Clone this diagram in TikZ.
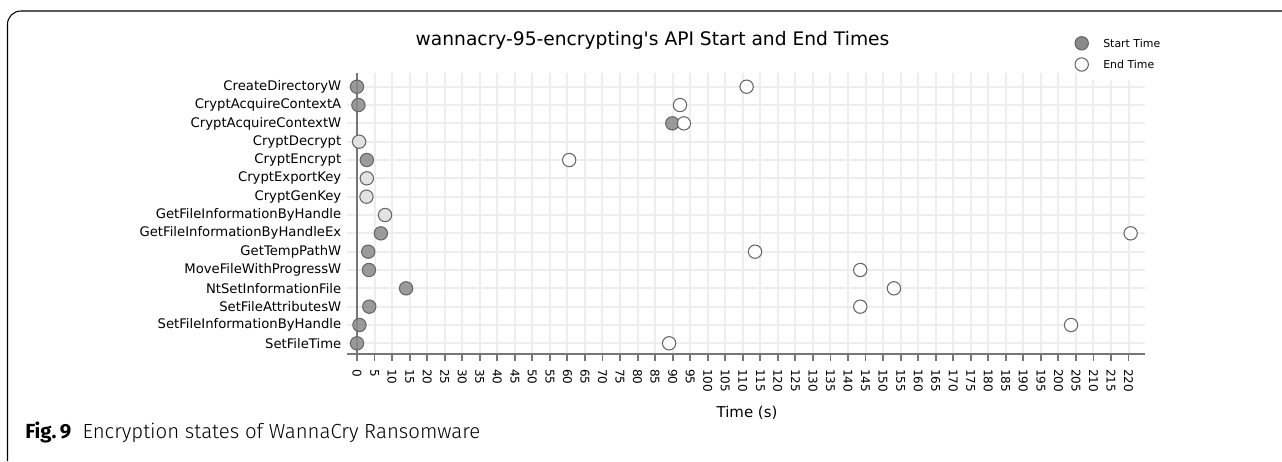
\documentclass[tikz,border=0pt]{standalone}
\usepackage{fontspec}
\setmainfont{DejaVu Sans}
\newfontfamily\capfont{Fira Sans}
\newfontfamily\capfontlight{Fira Sans Light}
\definecolor{gridc}{HTML}{EEEEEE}
\definecolor{axisc}{HTML}{777777}
\definecolor{startc}{HTML}{8A8A8A}
\definecolor{edgec}{HTML}{666666}
\definecolor{lightc}{HTML}{E2E2E2}
\begin{document}
\begin{tikzpicture}[x=0.75pt,y=-0.75pt,
  gridline/.style={draw=gridc,line width=1.5pt},
  axisline/.style={draw=axisc,line width=1.4pt},
  ylab/.style={anchor=east,inner sep=0pt,font=\fontsize{9.9pt}{11pt}\selectfont},
  ticklab/.style={anchor=west,rotate=-90,inner sep=0pt,font=\fontsize{9pt}{10pt}\selectfont},
  startm/.style={circle,draw=edgec,fill=startc,fill opacity=0.85,line width=0.8pt,minimum size=10pt,inner sep=0pt},
  endm/.style={circle,draw=edgec,fill=white,fill opacity=0.85,line width=0.8pt,minimum size=10pt,inner sep=0pt},
  bothm/.style={circle,draw=edgec,fill=lightc,line width=0.8pt,minimum size=10pt,inner sep=0pt},
  legtext/.style={anchor=west,inner sep=0pt,font=\fontsize{8.2pt}{10pt}\selectfont}
]
\useasboundingbox (0,0) rectangle (1282,461);
% frame
\draw[line width=0.8pt,rounded corners=10pt] (7.5,461) -- (7.5,11) -- (1282,11);
% title
\node[inner sep=0pt,font=\fontsize{14pt}{16pt}\selectfont] (title) at (652.5,40) {wannacry-95-encrypting\textquotesingle s API Start and End Times};
% grid
\foreach \t in {5,10,...,220} {
  \draw[gridline] ({357+3.507*\t},73) -- ({357+3.507*\t},354);
}
\foreach \i in {0,...,14} {
  \draw[gridline] (347,{86.7+18.33*\i}) -- (1145,{86.7+18.33*\i});
}
% legend background
\fill[white] (1086,28) rectangle (1180,80);
% axes
\coordinate (xa0) at (347,354);
\coordinate (xa1) at (1145,354);
\coordinate (ya0) at (357,73);
\coordinate (ya1) at (357,354);
\draw[axisline] (ya0) -- (ya1);
\draw[axisline] (xa0) -- (xa1);
\foreach \t in {0,5,...,220} {
  \draw[axisline] ({357+3.507*\t},354) -- ({357+3.507*\t},361);
  \node[ticklab] (tk\t) at ({357+3.507*\t},369) {\t};
}
\node[inner sep=0pt,font=\fontsize{11.2pt}{13pt}\selectfont] (xlabel) at (747,413) {Time (s)};
% y labels
\foreach \n [count=\j from 0] in {CreateDirectoryW,CryptAcquireContextA,CryptAcquireContextW,CryptDecrypt,CryptEncrypt,CryptExportKey,CryptGenKey,GetFileInformationByHandle,GetFileInformationByHandleEx,GetTempPathW,MoveFileWithProgressW,NtSetInformationFile,SetFileAttributesW,SetFileInformationByHandle,SetFileTime} {
  \node[ylab] (l\j) at (341.5,{86.7+18.33*\j}) {\n};
}
% markers: row/start/end
\foreach \j/\s/\e in {0/0/111.1,1/0.4/92.1,2/89.9/93.2,4/2.8/60.5,8/6.8/220.6,9/3.2/113.5,10/3.4/143.5,11/14.0/153.1,12/3.5/143.5,13/0.7/203.6,14/0/89.0} {
  \node[startm] (s\j) at ({357+3.507*\s},{86.7+18.33*\j}) {};
  \node[endm] (e\j) at ({357+3.507*\e},{86.7+18.33*\j}) {};
}
\foreach \j/\s in {3/0.6,5/2.8,6/2.7,7/8.0} {
  \node[bothm] (s\j) at ({357+3.507*\s},{86.7+18.33*\j}) {};
}
% legend
\node[startm,fill opacity=1] (legs) at (1081.7,43.3) {};
\node[endm,fill opacity=1] (lege) at (1081.7,64.5) {};
\node[legtext] (legst) at (1103,43.3) {Start Time};
\node[legtext] (leget) at (1103,64.5) {End Time};
% caption
\node[anchor=west,inner sep=0pt,font=\fontsize{15.3pt}{17pt}\selectfont] (cap) at (25,432) {{\capfont\bfseries Fig.\,9}\hspace{0.55em}{\capfontlight Encryption states of WannaCry Ransomware}};
\end{tikzpicture}
\end{document}
